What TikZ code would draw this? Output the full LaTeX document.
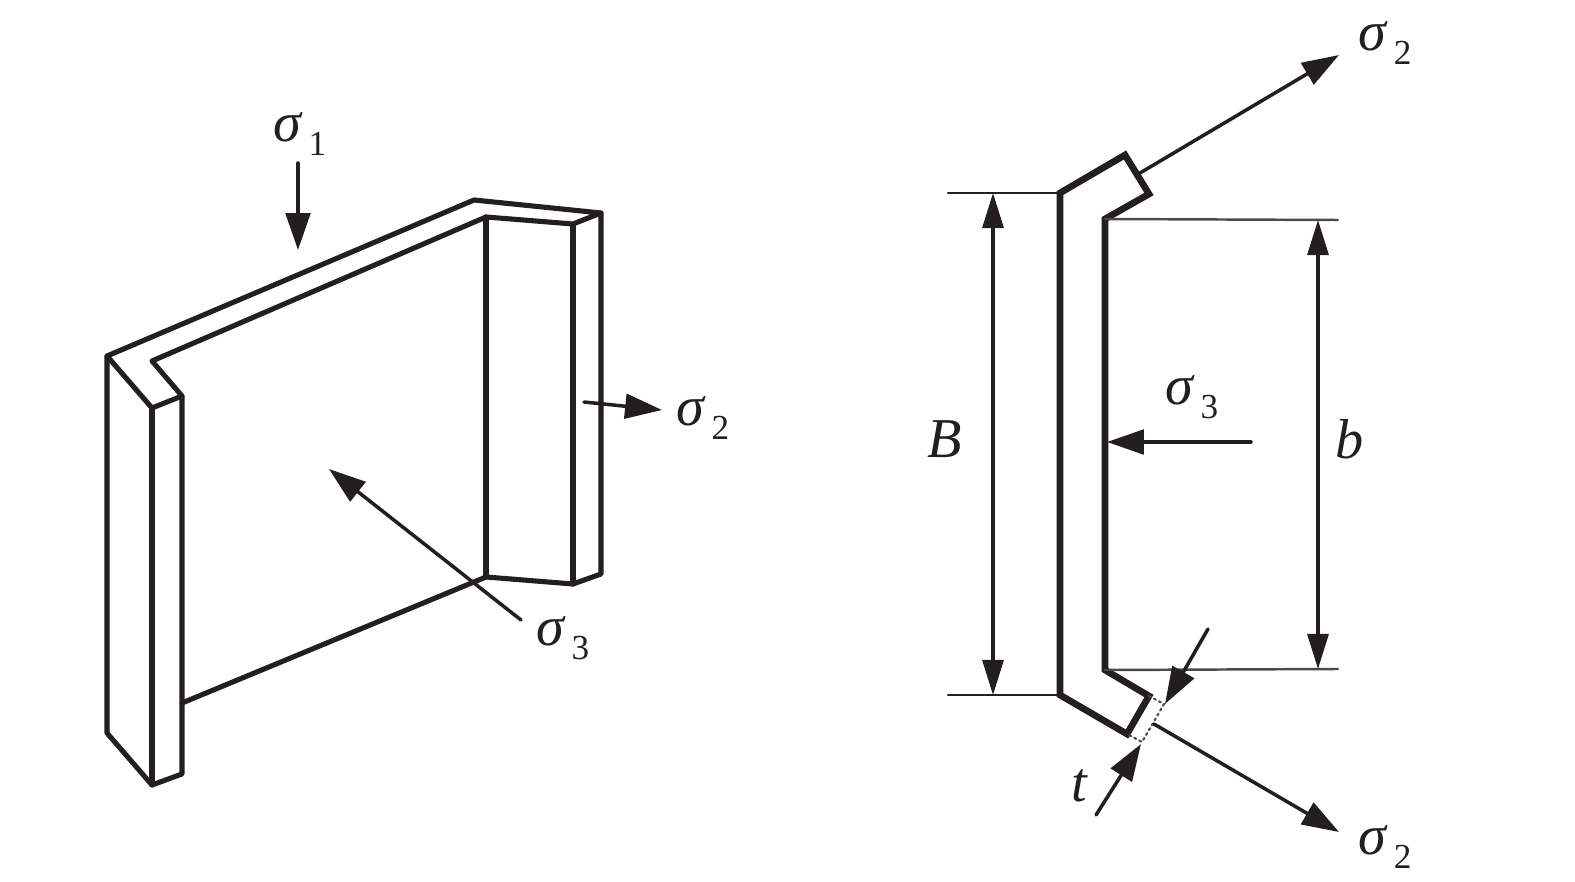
\documentclass[tikz,border=0pt]{standalone}
\usepackage{fontspec}
\setmainfont{Liberation Serif}
\usepackage{xcolor}
\usetikzlibrary{arrows.meta}
\definecolor{ink}{HTML}{231F20}
\definecolor{muted}{HTML}{4A4A4A}
\tikzset{
  Edge/.style={draw=ink, line width=1.45pt, line join=round},
  Profile/.style={draw=ink, line width=1.9pt, line join=miter},
  Force/.style={draw=ink, line width=1pt, -{Triangle[length=10.5pt,width=7pt]}},
  Dim/.style={draw=ink, line width=0.9pt, {Triangle[length=10pt,width=6pt]}-{Triangle[length=10pt,width=6pt]}},
  Ext/.style={draw=ink, line width=0.7pt},
  Lbl/.style={text=ink, inner sep=0pt, font=\fontsize{16}{16}\selectfont\itshape}
}
\newcommand{\Sig}[1]{σ\hspace{0.13em}\raisebox{-0.24em}{\fontsize{10}{10}\selectfont\upshape #1}}
\begin{document}
\begin{tikzpicture}[x=0.01cm, y=-0.01cm, line cap=round]
  \useasboundingbox (0,0) rectangle (1575,882);
  % left part, flange and web
  \coordinate (A) at (107,356);
  \coordinate (B) at (474,200);
  \coordinate (C) at (601,213);
  \coordinate (D) at (152,361);
  \coordinate (E) at (486,217);
  \coordinate (F) at (573,224);
  \coordinate (G) at (182,396);
  \coordinate (H) at (152,408);
  \coordinate (I) at (107,733);
  \coordinate (J) at (152,785);
  \coordinate (K) at (182,774);
  \coordinate (L) at (486,577);
  \coordinate (M) at (573,584);
  \coordinate (N) at (601,574);
  \coordinate (P) at (182,703);

  \draw[Edge] (G)--(H)--(A)--(B)--(C)--(F)--(E)--(D)--cycle;
  \draw[Edge] (A)--(I)--(J)--(K)--(G);
  \draw[Edge] (H)--(J);
  \draw[Edge] (E)--(L);
  \draw[Edge] (F)--(M);
  \draw[Edge] (C)--(N)--(M)--(L)--(P);

  % loads on the left part
  \node[Lbl] (s1) at (300,134) {\Sig{1}};
  \node[Lbl] (s2a) at (703,418) {\Sig{2}};
  \node[Lbl] (s3a) at (563,638) {\Sig{3}};
  \coordinate (s1a) at (298,163);
  \coordinate (s1b) at (298,250);
  \coordinate (s2t) at (584,402);
  \coordinate (s2h) at (662,410);
  \coordinate (s3t) at (521,620);
  \coordinate (s3h) at (329,469);
  \draw[Force] (s1a)--(s1b);
  \draw[Force] (s2t)--(s2h);
  \draw[Force] (s3t)--(s3h);

  % right part, cross section
  \coordinate (a) at (1060,193);
  \coordinate (b) at (1125,155);
  \coordinate (c) at (1149,194);
  \coordinate (d) at (1105,219);
  \coordinate (e) at (1105,670);
  \coordinate (f) at (1149,696);
  \coordinate (g) at (1127,734);
  \coordinate (h) at (1060,695);
  \draw[Profile] (a)--(b)--(c)--(d)--(e)--(f)--(g)--(h)--cycle;
  \draw[draw=muted, line width=0.6pt, densely dotted] (f)--(1164,704)--(1142,742)--(g);

  % extension lines and dimensions
  \coordinate (Bt) at (948,193);
  \coordinate (Bb) at (948,695);
  \coordinate (bt) at (1338,220);
  \coordinate (bb) at (1338,669);
  \draw[Ext] (Bt)--(a);
  \draw[Ext] (Bb)--(h);
  \draw[Ext, draw=muted] (d)--(bt);
  \draw[Ext, draw=muted] (e)--(bb);
  \draw[Dim] (993,193)--(993,695);
  \draw[Dim] (1318,220)--(1318,669);
  \node[Lbl] (lB) at (945,439) {B};
  \node[Lbl] (lb) at (1350,439) {b};

  % loads on the right part
  \node[Lbl] (s2b) at (1385,43) {\Sig{2}};
  \node[Lbl] (s2c) at (1385,847) {\Sig{2}};
  \node[Lbl] (s3b) at (1192,397) {\Sig{3}};
  \coordinate (p1) at (1140,173);
  \coordinate (p2) at (1339,55);
  \coordinate (p3) at (1154,724);
  \coordinate (p4) at (1339,832);
  \coordinate (p5) at (1251,442);
  \draw[Force] (p1)--(p2);
  \draw[Force] (p3)--(p4);
  \draw[Force] (p5)--(1107,442);

  % thickness
  \node[Lbl] (lt) at (1079,786) {t};
  \draw[Force] (1208,629)--(1165,704);
  \draw[Force] (1096,815)--(1141,744);
\end{tikzpicture}
\end{document}
